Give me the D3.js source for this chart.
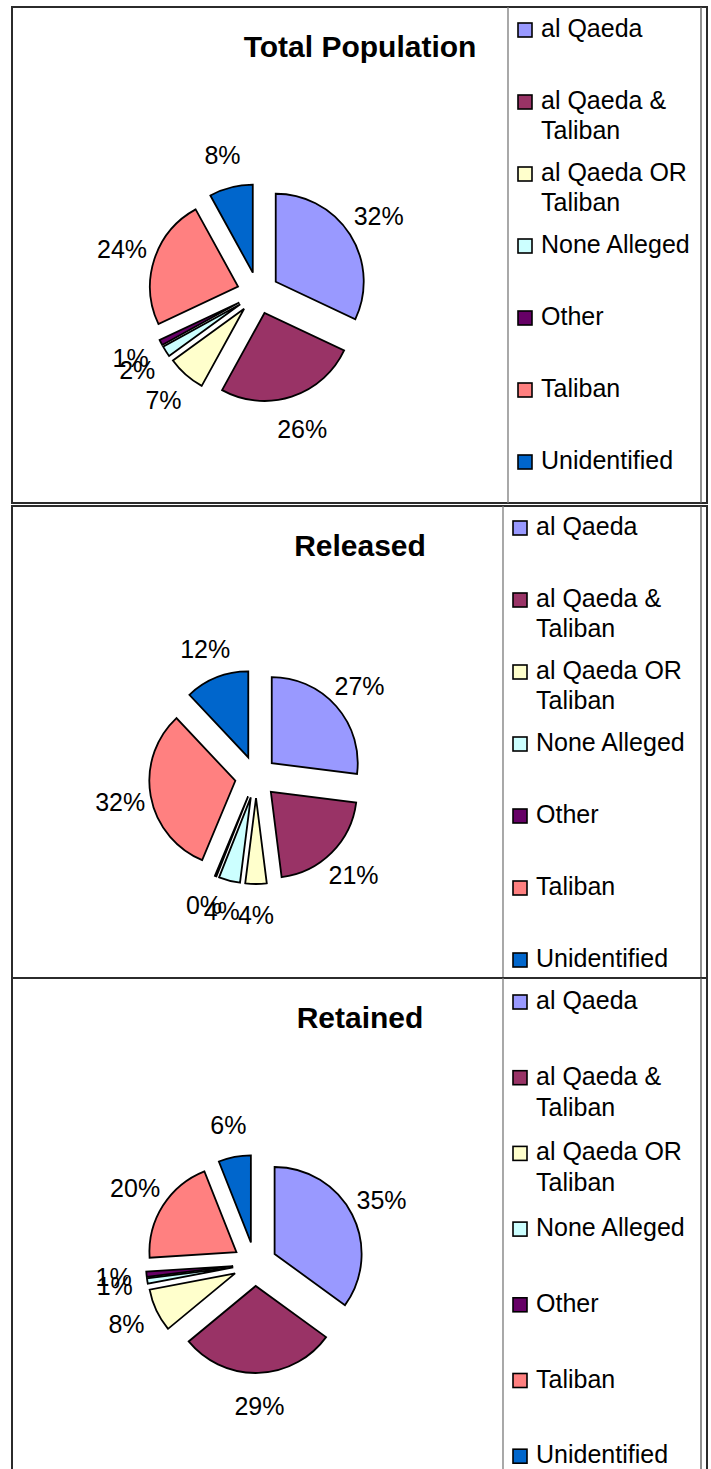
<!DOCTYPE html>
<html>
<head>
<meta charset="utf-8">
<script src="https://cdn.jsdelivr.net/npm/d3@7"></script>
<style>
  html, body { margin: 0; padding: 0; background: #fff; }
  svg { display: block; }
  text { font-family: "Liberation Sans", Arial, sans-serif; fill: #000; }
</style>
</head>
<body>
<script>
// ---- data ----
const categories = ["al Qaeda", "al Qaeda & Taliban", "al Qaeda OR Taliban", "None Alleged", "Other", "Taliban", "Unidentified"];
const colors = ["#9999FF", "#993366", "#FFFFCC", "#CCFFFF", "#660066", "#FF8080", "#0066CC"];
const panelTitles = ["Total Population", "Released", "Retained"];
const totalValues = [32, 26, 7, 2, 1, 24, 8];
const releasedValues = [27, 21, 4, 4, 0.3, 31.7, 12];
const retainedValues = [35, 29, 8, 1, 1, 20, 6];

// ---- layout ----
const W = 711, H = 1469;
const panels = [
  { title: panelTitles[0], values: totalValues, top: 7, bottom: 503, divider: 508, cx: 258, cy: 293, r: 88, explode: 21, labelR: 143, legendBase: 37, legendStep: 72, wrapStep: 30 },
  { title: panelTitles[1], values: releasedValues, top: 506, bottom: 978, divider: 503, cx: 256, cy: 777, r: 86, explode: 21, labelR: 138, legendBase: 535, legendStep: 72, wrapStep: 30 },
  { title: panelTitles[2], values: retainedValues, top: 978, bottom: 1480, divider: 503, cx: 255, cy: 1264, r: 87, explode: 22, labelR: 142, legendBase: 1009, legendStep: 75.7, wrapStep: 31 }
];

const svg = d3.select("body").append("svg").attr("width", W).attr("height", H);

const color = d3.scaleOrdinal().domain(categories).range(colors);
const pie = d3.pie().sort(null).value(d => d.value);
const pct = d3.format(".0%");

function wrapWords(textSel, str, maxW, x, step) {
  const words = str.split(" ");
  let line = [];
  let tspan = textSel.append("tspan").attr("x", x).attr("dy", 0);
  words.forEach(w => {
    line.push(w);
    tspan.text(line.join(" "));
    if (tspan.node().getComputedTextLength() > maxW && line.length > 1) {
      line.pop();
      tspan.text(line.join(" "));
      line = [w];
      tspan = textSel.append("tspan").attr("x", x).attr("dy", step).text(w);
    }
  });
}

panels.forEach(p => {
  const g = svg.append("g");
  const data = categories.map((c, i) => ({ cat: c, value: p.values[i] }));
  const total = d3.sum(data, d => d.value);
  const arcs = pie(data);
  const arc = d3.arc().innerRadius(0).outerRadius(p.r);

  // borders
  g.append("rect").attr("x", 12).attr("y", p.top).attr("width", 707 - 12).attr("height", p.bottom - p.top)
    .attr("fill", "none").attr("stroke", "#2b2b2b").attr("stroke-width", 2);
  g.append("line").attr("x1", p.divider).attr("x2", p.divider).attr("y1", p.top).attr("y2", p.bottom)
    .attr("stroke", "#7a7a7a").attr("stroke-width", 1.3);
  g.append("line").attr("x1", 701).attr("x2", 701).attr("y1", p.top).attr("y2", p.bottom)
    .attr("stroke", "#555").attr("stroke-width", 1.3);

  // title
  g.append("text").attr("x", 360).attr("y", p.top + 50).attr("text-anchor", "middle")
    .style("font-weight", "bold").style("font-size", "30px").text(p.title);

  // slices
  const pg = g.append("g").attr("transform", `translate(${p.cx},${p.cy})`);
  pg.selectAll("path.slice").data(arcs).join("path").attr("class", "slice")
    .attr("transform", d => {
      const a = (d.startAngle + d.endAngle) / 2;
      return `translate(${Math.sin(a) * p.explode},${-Math.cos(a) * p.explode})`;
    })
    .attr("d", arc)
    .attr("fill", d => color(d.data.cat))
    .attr("stroke", "#000").attr("stroke-width", 1.8).attr("stroke-linejoin", "miter");

  // labels
  pg.selectAll("text.lbl").data(arcs).join("text").attr("class", "lbl")
    .attr("x", d => Math.sin((d.startAngle + d.endAngle) / 2) * p.labelR)
    .attr("y", d => -Math.cos((d.startAngle + d.endAngle) / 2) * p.labelR)
    .attr("text-anchor", "middle").attr("dominant-baseline", "central")
    .style("font-size", "25px")
    .text(d => pct(d.data.value / total));

  // legend
  const lx = p.divider + 10;
  const lg = g.append("g");
  categories.forEach((c, i) => {
    const by = p.legendBase + i * p.legendStep;
    lg.append("rect").attr("x", lx).attr("y", by - 14).attr("width", 14).attr("height", 14)
      .attr("fill", color(c)).attr("stroke", "#000").attr("stroke-width", 1.6);
    const t = lg.append("text").attr("x", lx + 23).attr("y", by).style("font-size", "25px");
    wrapWords(t, c, 158, lx + 23, p.wrapStep);
  });
});
</script>
</body>
</html>
